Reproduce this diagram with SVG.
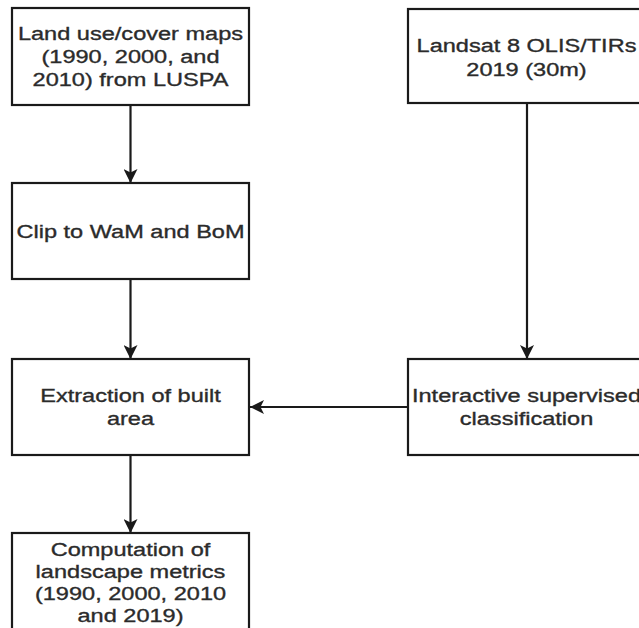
<svg xmlns="http://www.w3.org/2000/svg" width="639" height="628" viewBox="0 0 639 628">
<style>
.box{fill:#fff;stroke:#1a1a1a;stroke-width:2.2}
.lbl{font-family:"Liberation Sans",Arial,sans-serif;font-size:19px;fill:#2b2b2b;stroke:#2b2b2b;stroke-width:0.35;text-anchor:middle}
.edge{stroke:#1a1a1a;stroke-width:2.2;fill:none}
</style>
<defs>
<marker id="ah" viewBox="0 0 14 14" refX="14" refY="7" markerWidth="14" markerHeight="14" markerUnits="userSpaceOnUse" orient="auto">
<path d="M0,0 L14,7 L0,14 L3.5,7 Z" fill="#1a1a1a"/>
</marker>
</defs>
<rect width="639" height="628" fill="#fff"/>
<g id="connectors">
<line class="edge" x1="130.5" y1="105" x2="130.5" y2="183" marker-end="url(#ah)"/>
<line class="edge" x1="130.5" y1="279" x2="130.5" y2="359" marker-end="url(#ah)"/>
<line class="edge" x1="130.5" y1="455" x2="130.5" y2="533" marker-end="url(#ah)"/>
<line class="edge" x1="527" y1="103" x2="527" y2="359" marker-end="url(#ah)"/>
<line class="edge" x1="408" y1="407" x2="250" y2="407" marker-end="url(#ah)"/>
</g>
<g id="n1">
<rect class="box" x="12" y="8" width="237" height="97"/>
<text class="lbl" transform="matrix(1.24 0 0 1 130.5 0)"><tspan x="0" y="40">Land use/cover maps</tspan><tspan x="0" y="63">(1990, 2000, and</tspan><tspan x="0" y="86">2010) from LUSPA</tspan></text>
</g>
<g id="n2">
<rect class="box" x="408" y="9" width="237" height="94"/>
<text class="lbl" transform="matrix(1.24 0 0 1 526.5 0)"><tspan x="0" y="52">Landsat 8 OLIS/TIRs</tspan><tspan x="0" y="76">2019 (30m)</tspan></text>
</g>
<g id="n3">
<rect class="box" x="12" y="183" width="237" height="96"/>
<text class="lbl" transform="matrix(1.24 0 0 1 130.5 0)"><tspan x="0" y="238">Clip to WaM and BoM</tspan></text>
</g>
<g id="n4">
<rect class="box" x="12" y="359" width="237" height="96"/>
<text class="lbl" transform="matrix(1.24 0 0 1 130.5 0)"><tspan x="0" y="402">Extraction of built</tspan><tspan x="0" y="425">area</tspan></text>
</g>
<g id="n5">
<rect class="box" x="408" y="359" width="237" height="96"/>
<text class="lbl" transform="matrix(1.24 0 0 1 526.5 0)"><tspan x="0" y="402">Interactive supervised</tspan><tspan x="0" y="425">classification</tspan></text>
</g>
<g id="n6">
<rect class="box" x="12" y="533" width="237" height="97"/>
<text class="lbl" transform="matrix(1.24 0 0 1 130.5 0)"><tspan x="0" y="556">Computation of</tspan><tspan x="0" y="578">landscape metrics</tspan><tspan x="0" y="600">(1990, 2000, 2010</tspan><tspan x="0" y="622">and 2019)</tspan></text>
</g>
</svg>
